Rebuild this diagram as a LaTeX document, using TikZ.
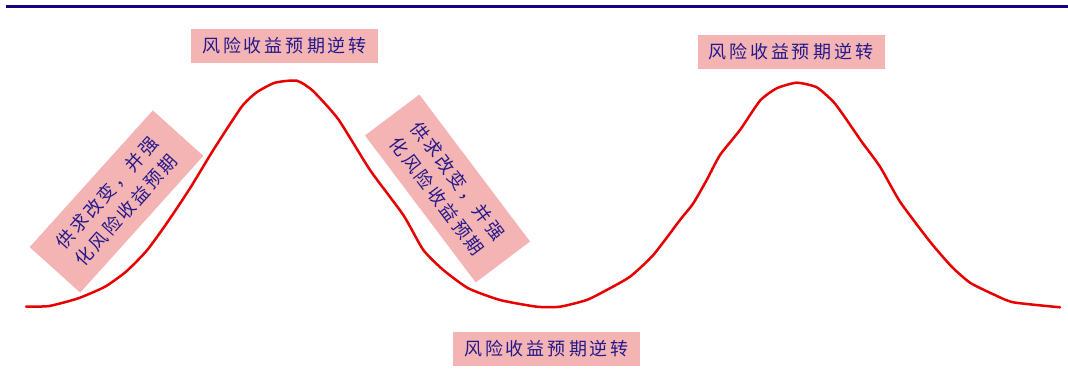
\documentclass[tikz,border=0pt]{standalone}
\usepackage{fontspec}
\newfontfamily\cjk[LetterSpace=15]{Noto Sans CJK SC}
\definecolor{rulenavy}{RGB}{26,0,128}
\definecolor{textnavy}{RGB}{35,25,140}
\definecolor{pinkbox}{RGB}{245,180,180}
\definecolor{curvered}{RGB}{230,0,0}
\begin{document}
\begin{tikzpicture}[x=1pt,y=-1pt,
  lab/.style={fill=pinkbox, text=textnavy, font=\cjk\fontsize{18}{24}\selectfont,
    inner sep=0pt, minimum width=187pt, minimum height=34pt},
  tilt/.style={fill=pinkbox, text=textnavy, font=\cjk\fontsize{18}{26}\selectfont,
    align=center, inner sep=0pt, minimum width=184pt, minimum height=68pt}]
\useasboundingbox (0,0) rectangle (1068,385);
\coordinate (rs) at (6,6.5);
\coordinate (re) at (1068,6.5);
\draw[rulenavy, line width=3pt] (rs) -- (re);
\node[lab] (t1) at (284.5,46) {风险收益预\hspace{4pt}期逆转};
\node[lab] (t2) at (546.5,349) {风险收益预\hspace{4pt}期逆转};
\node[lab] (t3) at (791,52) {风险收益预\hspace{4pt}期逆转};
\node[tilt, rotate=48] (s1) at (116.5,201.5) {供求改变，并强\\化风险收益预期};
\node[tilt, rotate=-53] (s2) at (447.5,188.5) {供求改变，并强\\化风险收益预期};
\draw[curvered, line width=2.5pt, line join=round, line cap=round]
  plot[smooth, tension=0.35] coordinates {
  (26,306.7) (49.3,306) (78.3,298.3) (105,286.7) (126,271.7) (146.7,250.7)
  (166.7,223.3) (190,188.3) (213.3,150) (241.7,106.7) (256.7,92.3) (275,82.7)
  (296.7,80.7) (312.7,90.7) (338.3,119.3) (370,170) (403.3,215) (423.3,250)
  (443.3,270) (468.3,288.3) (500,300) (536.7,306.7) (560,306.7) (586.7,300)
  (606.7,290) (630,276.7) (653.3,255) (680,220) (693.3,203.3) (706.7,180)
  (720,155) (740,130) (760,100.7) (776.7,88.3) (796.7,82.7) (816.7,87.3)
  (833.3,101.7) (843.3,115) (861.7,141.7) (880,166.7) (900,201.7) (930,241.7)
  (951.7,266.7) (970,282.7) (993.3,294.3) (1013.3,302.3) (1060,307.3)};
\end{tikzpicture}
\end{document}
